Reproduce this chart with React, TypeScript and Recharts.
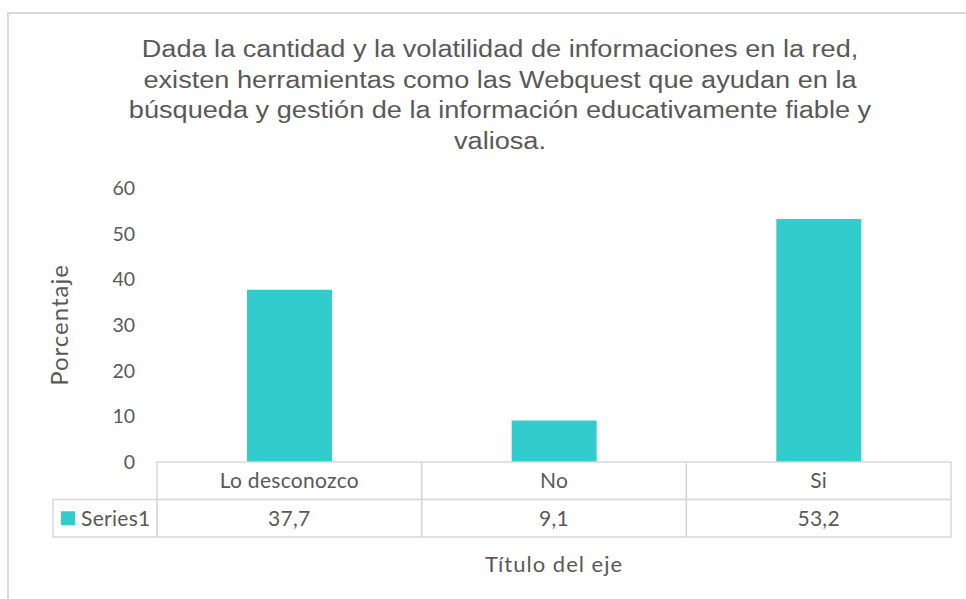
import React from "react";
import { BarChart, Bar, XAxis, YAxis } from "recharts";

const categories = ["Lo desconozco", "No", "Si"];
const series1 = [37.7, 9.1, 53.2];
const yTicks = [0, 10, 20, 30, 40, 50, 60];
const titleLines = [
    "Dada la cantidad y la volatilidad de informaciones en la red,",
    "existen herramientas como las Webquest que ayudan en la",
    "búsqueda y gestión de la información educativamente fiable y",
    "valiosa.",
];

const W = 966;
const H = 599;
const margin = { top: 188, right: 15, left: 97, bottom: 0 };
const yAxisW = 60;
const xAxisH = 137;
const plotLeft = margin.left + yAxisW;
const plotW = W - margin.right - plotLeft;
const band = plotW / categories.length;
const rowH = 37.5;
const labelFont = "Lato, 'Open Sans', sans-serif";
const textColor = "#595959";
const gridColor = "#d9d9d9";
const barColor = "#33cccc";

const data = categories.map((c, i) => ({ name: c, value: series1[i] }));

const fmt = (v: number) => String(v).replace(".", ",");

function TableTick(props: any) {
    const { x, y, payload, index } = props;
    const left = x - band / 2;
    const txt = { fontSize: 21, fill: textColor, fontFamily: labelFont, letterSpacing: 0.3 };
    return (
        <g>
            <rect x={left} y={y} width={band} height={rowH} fill="none" stroke={gridColor} strokeWidth={1.5} />
            <rect x={left} y={y + rowH} width={band} height={rowH} fill="none" stroke={gridColor} strokeWidth={1.5} />
            <text x={x} y={y + rowH / 2 + 7.5} textAnchor="middle" {...txt}>
                {payload.value}
            </text>
            <text x={x} y={y + rowH * 1.5 + 7.5} textAnchor="middle" {...txt}>
                {fmt(series1[index])}
            </text>
            {index === 0 && (
                <g>
                    <rect x={left - 104} y={y + rowH} width={104} height={rowH} fill="none" stroke={gridColor} strokeWidth={1.5} />
                    <rect x={left - 96} y={y + rowH * 1.5 - 7} width={14} height={14} fill={barColor} />
                    <text x={left - 76} y={y + rowH * 1.5 + 7.5} {...txt}>
                        Series1
                    </text>
                </g>
            )}
        </g>
    );
}

export default function App() {
    return (
        <div style={{ position: "absolute", left: 0, top: 0, width: W, height: H, background: "#fff" }}>
            <div style={{ position: "absolute", left: 7, top: 12, right: 0, bottom: 0, borderTop: "2px solid #d9d9d9", borderLeft: "2px solid #d9d9d9" }} />
            <div
                style={{
                    position: "absolute",
                    left: 0,
                    top: 34,
                    width: 1000,
                    textAlign: "center",
                    fontFamily: "'Liberation Sans', Arial, sans-serif",
                    fontSize: 23,
                    lineHeight: "30.5px",
                    color: textColor,
                    transform: "scaleX(1.18)",
                    transformOrigin: "500px 0",
                }}
            >
                {titleLines.map((l, i) => (
                    <div key={i}>{l}</div>
                ))}
            </div>
            <BarChart width={W} height={H} data={data} margin={margin} barCategoryGap="34%" style={{ position: "absolute", left: 0, top: 0 }}>
                <YAxis
                    width={yAxisW}
                    domain={[0, 60]}
                    ticks={yTicks}
                    axisLine={false}
                    tickLine={false}
                    tickSize={0}
                    tickMargin={22}
                    tick={{ fontSize: 19.5, fill: textColor, fontFamily: labelFont }}
                    label={{ value: "Porcentaje", angle: -90, position: "insideLeft", offset: -38, style: { fontSize: 24, letterSpacing: 1, fill: textColor, fontFamily: labelFont, textAnchor: "middle" } }}
                />
                <XAxis
                    dataKey="name"
                    axisLine={false}
                    tickLine={false}
                    tickSize={0}
                    tickMargin={0}
                    interval={0}
                    height={xAxisH}
                    tick={<TableTick />}
                    label={{ value: "Título del eje", position: "insideBottom", offset: 27, style: { fontSize: 22, letterSpacing: 1, fill: textColor, fontFamily: labelFont } }}
                />
                <Bar dataKey="value" fill={barColor} isAnimationActive={false} />
            </BarChart>
        </div>
    );
}
